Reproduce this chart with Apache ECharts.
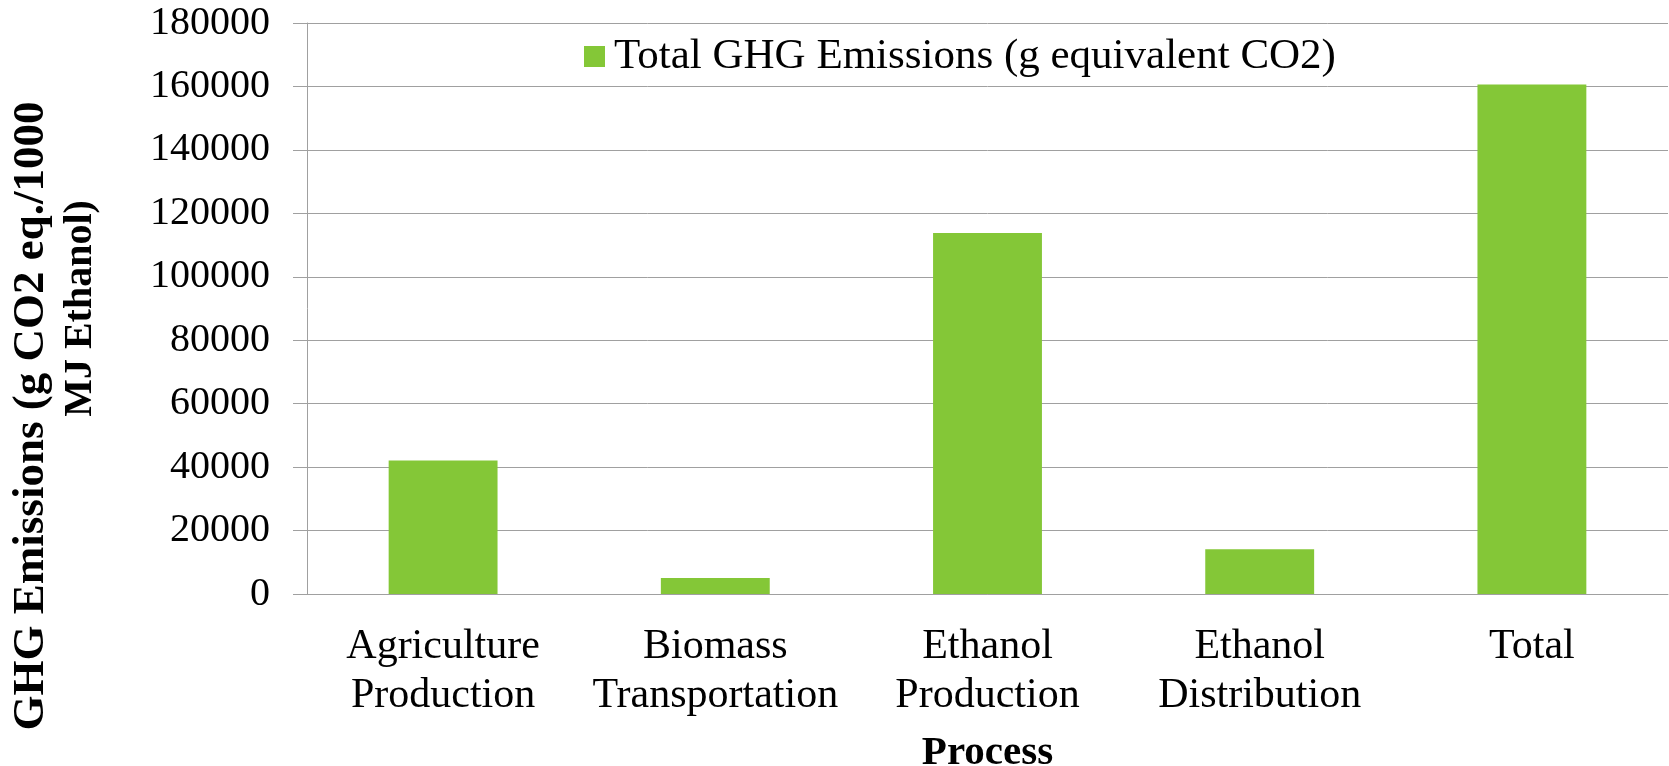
<!DOCTYPE html>
<html>
<head>
<meta charset="utf-8">
<script src="https://cdn.jsdelivr.net/npm/echarts@6/dist/echarts.min.js"></script>
<style>
  html, body { margin: 0; padding: 0; background: #fff; }
  #main { width: 1669px; height: 766px; }
</style>
</head>
<body>
<div id="main"></div>
<script>
// categories along the x axis (two-line labels like the original)
const processes = [
  "Agriculture\nProduction",
  "Biomass\nTransportation",
  "Ethanol\nProduction",
  "Ethanol\nDistribution",
  "Total"
];
// g CO2 eq. per 1000 MJ ethanol
const ghgValues = [42100, 5050, 113800, 14100, 160600];
const seriesName = "Total GHG Emissions (g equivalent CO2)";
const yMin = 0;
const yMax = 180000;
const yStep = 20000;

const serif = "'Liberation Serif', 'Times New Roman', serif";
const gray = "#a0a0a0";

const chart = echarts.init(document.getElementById("main"));
chart.setOption({
  animation: false,
  grid: {
    left: 307, right: 1, top: 23, bottom: 172,
    containLabel: false,
    outerBoundsMode: "none"
  },
  legend: {
    data: [seriesName],
    left: 584,
    top: 35,
    padding: 0,
    icon: "rect",
    itemWidth: 21,
    itemHeight: 21,
    textStyle: { fontFamily: serif, fontSize: 43, color: "#000", padding: [0, 0, 0, 4] }
  },
  xAxis: {
    type: "category",
    data: processes,
    name: "Process",
    nameLocation: "middle",
    nameGap: 139,
    nameTextStyle: { fontFamily: serif, fontSize: 41, fontWeight: "bold", color: "#000" },
    axisLine: { lineStyle: { color: gray, width: 1 } },
    axisTick: { show: false },
    axisLabel: {
      interval: 0,
      margin: 28,
      fontFamily: serif,
      fontSize: 42,
      lineHeight: 49,
      color: "#000"
    }
  },
  yAxis: {
    type: "value",
    min: yMin,
    max: yMax,
    interval: yStep,
    // first line sits lower than the second in the original, hence the padding
    name: "{a|GHG Emissions (g CO2 eq./1000}\n{b|MJ Ethanol)}",
    nameLocation: "middle",
    nameRotate: 90,
    nameGap: 202,
    nameTextStyle: {
      fontFamily: serif,
      fontWeight: "bold",
      color: "#000",
      lineHeight: 49,
      rich: {
        a: { fontFamily: serif, fontSize: 45, fontWeight: "bold", color: "#000", lineHeight: 49, padding: [0, 215, 0, 0] },
        b: { fontFamily: serif, fontSize: 40, fontWeight: "bold", color: "#000", lineHeight: 49 }
      }
    },
    axisLine: { show: true, lineStyle: { color: gray, width: 1 } },
    axisTick: { show: true, length: 14, lineStyle: { color: gray } },
    axisLabel: {
      margin: 37,
      fontFamily: serif,
      fontSize: 40,
      color: "#000",
      formatter: (v) => String(v)
    },
    splitLine: { lineStyle: { color: gray, width: 1 } }
  },
  series: [
    {
      name: seriesName,
      type: "bar",
      data: ghgValues,
      barWidth: "40%",
      itemStyle: { color: "#84c737" }
    }
  ]
});
</script>
</body>
</html>
